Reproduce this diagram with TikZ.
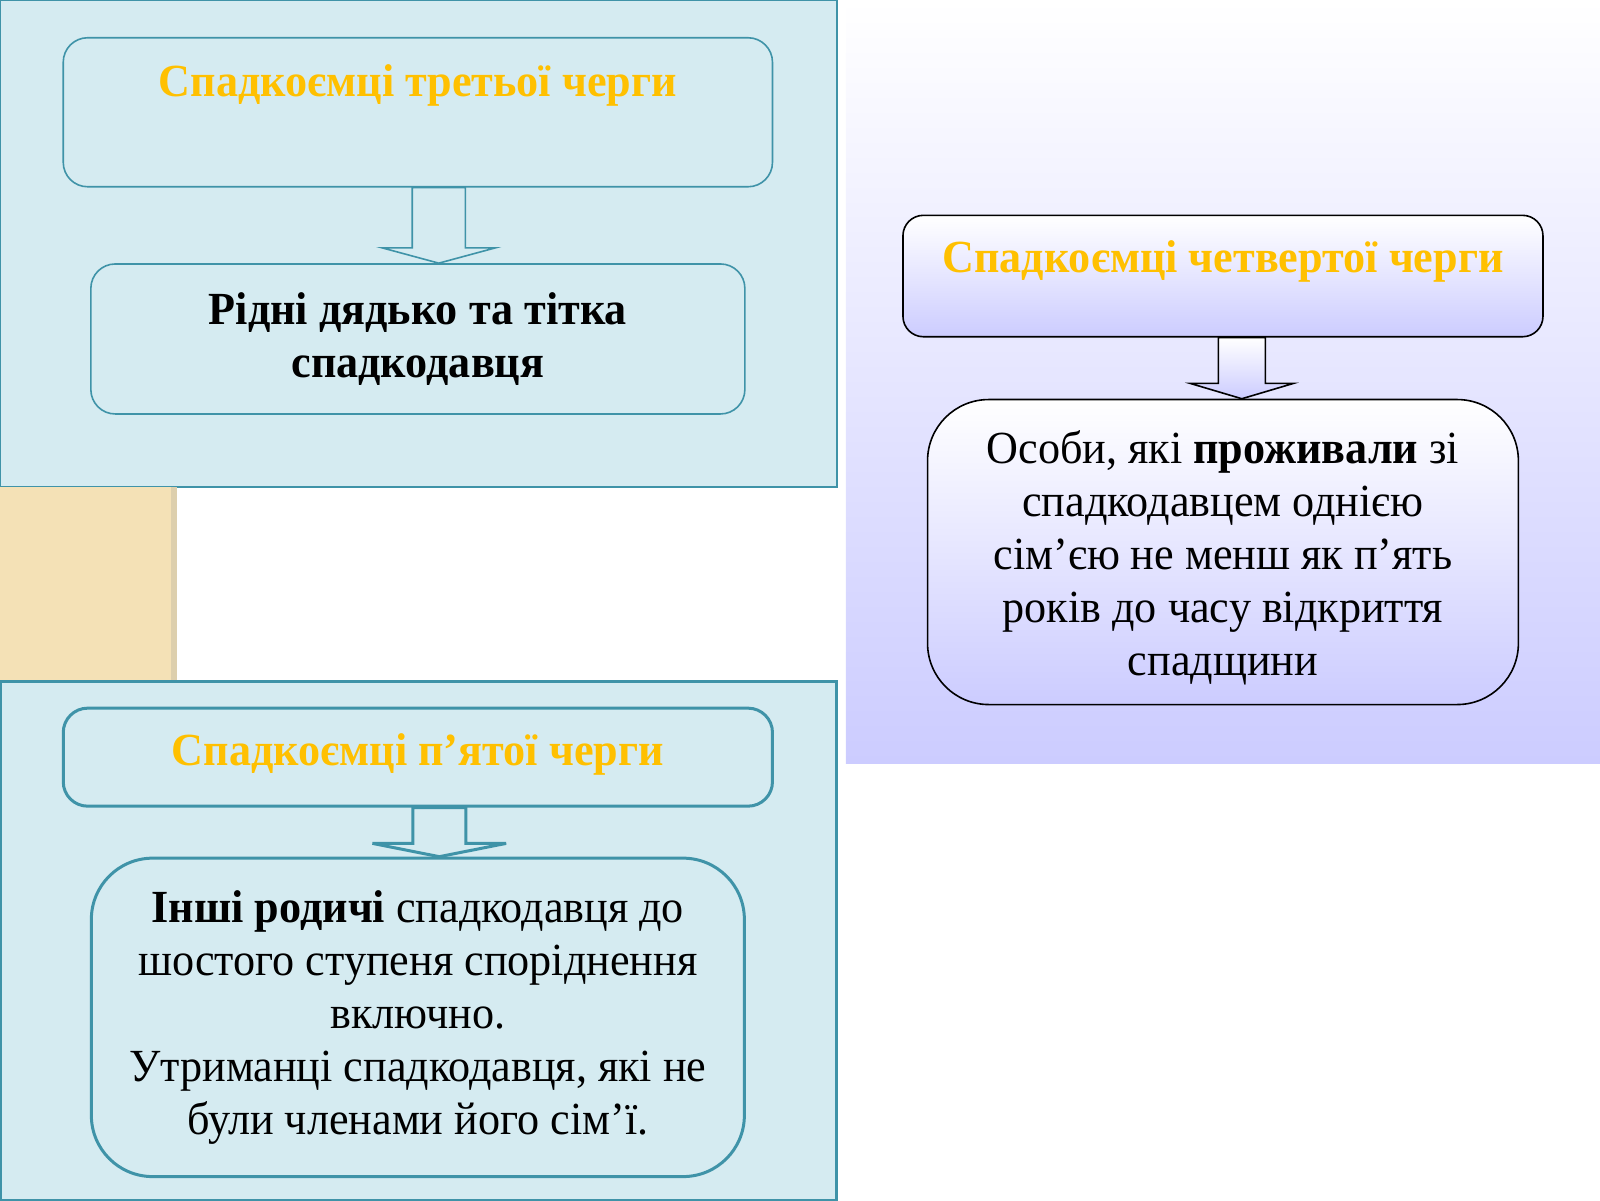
\documentclass[tikz,border=0pt]{standalone}
\usepackage{fontspec}
\setmainfont{Liberation Serif}[FakeStretch=0.96]
\usepackage{tikz}
\usetikzlibrary{positioning,calc}
\definecolor{paleblue}{HTML}{D5EBF1}
\definecolor{seablue}{HTML}{3F93A8}
\definecolor{gold}{HTML}{FFC000}
\definecolor{lavender}{HTML}{CCCCFF}
\definecolor{sand}{HTML}{F4E1B6}
\definecolor{sandshade}{HTML}{DDCFAD}
\newcommand\boxfont{\fontsize{23pt}{26.5pt}\selectfont}
\tikzset{
  panel/.style={draw=seablue, fill=paleblue, line width=1pt},
  bluebox/.style={rectangle, rounded corners=12.2pt, draw=seablue, fill=paleblue,
                  line width=0.8pt, align=center, font=\boxfont},
  violetbox/.style={rectangle, rounded corners=12.2pt, draw=black, top color=white,
                    bottom color=lavender, line width=0.8pt, align=center, font=\boxfont},
  heading/.style={text=gold, font=\boxfont\bfseries, text height=16.3pt, text depth=#1}
}
\begin{document}
\begin{tikzpicture}[x=0.5102pt,y=-0.5102pt]
    \useasboundingbox (0,0) rectangle (1568,1176);
    % Backgrounds
    \fill[top color=white, bottom color=lavender] (829,0) rectangle (1568,748);
    \draw[panel] (0,0) rectangle (820,477);
    \fill[sand] (0,477) rectangle (173,668);
    \fill[sandshade] (168,477) rectangle (173,668);
    \draw[panel, line width=1.5pt] (0,668) rectangle (820,1176);

    % Third line of heirs
    \node[bluebox, heading=31.6pt, minimum width=354.6pt, minimum height=74.5pt]
        (a3) at (409.5,110) {Спадкоємці третьої черги};
    \node[bluebox, font=\boxfont\bfseries, minimum width=327pt, minimum height=75pt,
        below=37.8pt of a3] (b3) {Рідні дядько та тітка\\спадкодавця};
    \coordinate (t3) at ($(b3.north)+(20.5,0)$);
    \draw[seablue, fill=paleblue, line width=0.8pt]
        ($(a3.south -| t3)+(-26,0)$) -- ($(t3)+(-26,-15)$) -- ($(t3)+(-55.5,-15)$) -- (t3)
        -- ($(t3)+(55.5,-15)$) -- ($(t3)+(26,-15)$) -- ($(a3.south -| t3)+(26,0)$) -- cycle;

    % Fifth line of heirs
    \node[bluebox, heading=8.2pt, line width=1.5pt, minimum width=354.6pt, minimum height=49pt]
        (a5) at (409.5,742) {Спадкоємці п’ятої черги};
    \node[bluebox, line width=1.5pt, rounded corners=30.6pt, minimum width=326.5pt,
        minimum height=159.2pt, below=24.5pt of a5] (b5)
        {\textbf{Інші родичі} спадкодавця до\\шостого ступеня споріднення\\включно.\\
         Утриманці спадкодавця, які не\\були членами його сім’ї.};
    \coordinate (t5) at ($(b5.north)+(21,0)$);
    \draw[seablue, fill=paleblue, line width=1.5pt]
        ($(a5.south -| t5)+(-26,0)$) -- ($(t5)+(-26,-13)$) -- ($(t5)+(-65.5,-13)$) -- (t5)
        -- ($(t5)+(65.5,-13)$) -- ($(t5)+(26,-13)$) -- ($(a5.south -| t5)+(26,0)$) -- cycle;

    % Fourth line of heirs
    \node[violetbox, heading=19.4pt, rounded corners=10.2pt, minimum width=320pt,
        minimum height=60.7pt] (a4) at (1198.5,270.5) {Спадкоємці четвертої черги};
    \node[violetbox, rounded corners=30.6pt, minimum width=295.4pt, minimum height=152.5pt,
        below=30.6pt of a4] (b4)
        {\rule{0pt}{22.4pt}Особи, які \textbf{проживали} зі\\спадкодавцем однією\\сім’єю не менш як п’ять\\
         років до часу відкриття\\спадщини};
    \coordinate (t4) at ($(b4.north)+(18.5,0)$);
    \draw[black, top color=white, bottom color=lavender, line width=0.8pt]
        ($(a4.south -| t4)+(-23,0)$) -- ($(t4)+(-23,-15)$) -- ($(t4)+(-50.5,-15)$) -- (t4)
        -- ($(t4)+(50.5,-15)$) -- ($(t4)+(23,-15)$) -- ($(a4.south -| t4)+(23,0)$) -- cycle;
\end{tikzpicture}
\end{document}
